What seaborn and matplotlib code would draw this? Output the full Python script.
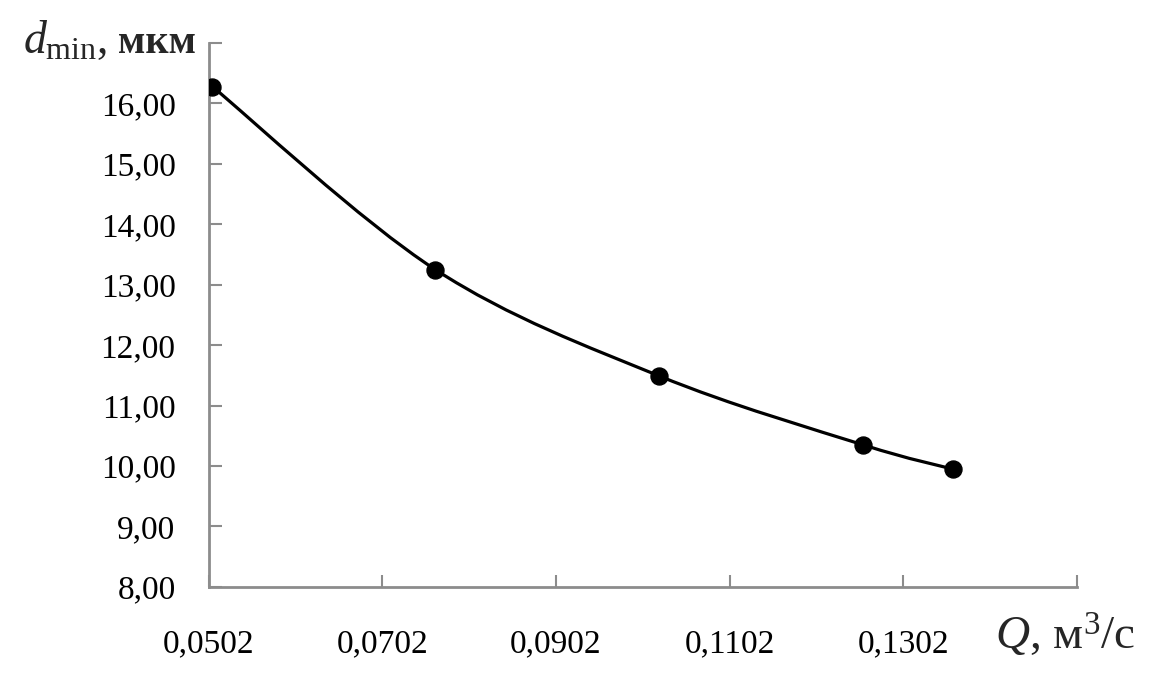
import numpy as np
import pandas as pd
import matplotlib
matplotlib.use("Agg")
import matplotlib.pyplot as plt
from matplotlib.path import Path
from matplotlib.patches import PathPatch
import seaborn as sns

# data
flow = [0.0506, 0.0763, 0.1021, 0.1256, 0.1359]
d_min = [16.28, 13.25, 11.49, 10.35, 9.95]
x_ticks = [0.0502, 0.0702, 0.0902, 0.1102, 0.1302, 0.1502]
x_tick_labels = ["0,0502", "0,0702", "0,0902", "0,1102", "0,1302", ""]
y_ticks = [8, 9, 10, 11, 12, 13, 14, 15, 16, 17]
y_tick_labels = ["8,00", "9,00", "10,00", "11,00", "12,00", "13,00",
                 "14,00", "15,00", "16,00", ""]

df = pd.DataFrame({"Q": flow, "d": d_min})

sns.set_theme(style="white")
plt.rcParams["font.family"] = ["Liberation Serif", "DejaVu Serif"]
plt.rcParams["mathtext.fontset"] = "custom"
plt.rcParams["mathtext.rm"] = "Liberation Serif"
plt.rcParams["mathtext.it"] = "Liberation Serif:italic"

fig = plt.figure(figsize=(11.54, 6.73), dpi=100)
ax = fig.add_axes([0.181, 0.128, 0.752, 0.808])

# smoothed line, Excel-like bezier through the points
pts = df[["Q", "d"]].to_numpy()
verts = [tuple(pts[0])]
codes = [Path.MOVETO]
n = len(pts)
for i in range(n - 1):
    p0 = pts[i - 1] if i > 0 else pts[i]
    p1 = pts[i]
    p2 = pts[i + 1]
    p3 = pts[i + 2] if i + 2 < n else pts[i + 1]
    c1 = p1 + (p2 - p0) / 6
    c2 = p2 - (p3 - p1) / 6
    verts += [tuple(c1), tuple(c2), tuple(p2)]
    codes += [Path.CURVE4] * 3
ax.add_patch(PathPatch(Path(verts, codes), facecolor="none",
                       edgecolor="black", lw=2.3, zorder=2))

sns.scatterplot(data=df, x="Q", y="d", ax=ax, color="black", s=150,
                edgecolor="black", zorder=3, legend=False)

ax.set_xlim(0.0502, 0.1502)
ax.set_ylim(8, 17)
ax.set_xticks(x_ticks)
ax.set_xticklabels(x_tick_labels)
ax.set_yticks(y_ticks)
ax.set_yticklabels(y_tick_labels)
ax.tick_params(axis="both", direction="in", length=9, width=1.5,
               color="#8c8c8c", labelsize=24, labelcolor="black",
               bottom=True, left=True)
ax.tick_params(axis="x", pad=30)
ax.tick_params(axis="y", pad=24)
ax.set_xlabel("")
ax.set_ylabel("")

for side in ["top", "right"]:
    ax.spines[side].set_visible(False)
for side in ["left", "bottom"]:
    ax.spines[side].set_color("#8c8c8c")
    ax.spines[side].set_linewidth(2)

fig.text(0.02, 0.921, r"$d_{\mathrm{min}}$,", fontsize=33,
         ha="left", va="baseline")
fig.text(0.102, 0.921, "мкм", fontsize=29, fontweight="bold",
         ha="left", va="baseline")
fig.text(0.862, 0.035, r"$Q$, м$^3$/с", fontsize=34,
         ha="left", va="baseline")

fig.savefig("out.png", dpi=100, facecolor="white")
